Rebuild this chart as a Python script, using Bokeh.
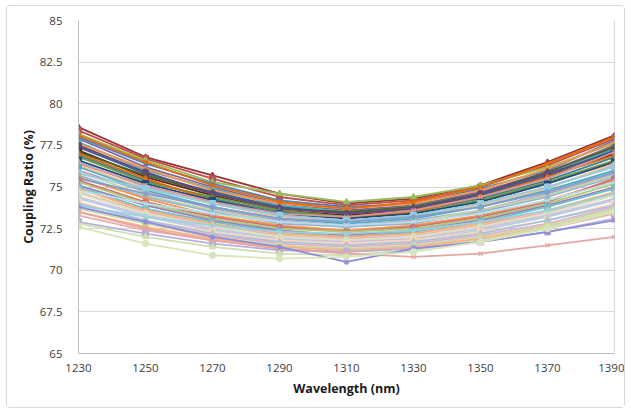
from bokeh.plotting import figure
from bokeh.models import FixedTicker, NumeralTickFormatter, Range1d, Span
from bokeh.embed import file_html
from bokeh.resources import INLINE

# Wavelength sweep (nm)
wavelength = [1230, 1250, 1270, 1290, 1310, 1330, 1350, 1370, 1390]

# Coupling ratio (%) of each measured coupler across the sweep
cr01 = [78.6, 76.8, 75.7, 74.6, 74.0, 74.3, 75.1, 76.5, 78.1]
cr02 = [78.4, 76.7, 75.5, 74.4, 73.9, 74.2, 75.0, 76.3, 77.9]
cr03 = [78.2, 76.6, 75.3, 74.6, 74.1, 74.4, 75.1, 76.2, 77.6]
cr04 = [78.0, 76.4, 75.2, 74.2, 73.8, 74.0, 74.9, 76.0, 77.8]
cr05 = [77.9, 76.2, 75.0, 74.0, 73.6, 73.9, 74.7, 75.9, 77.5]
cr06 = [77.7, 76.0, 74.9, 73.9, 73.5, 73.8, 74.6, 75.8, 77.3]
cr07 = [77.6, 76.1, 74.8, 74.0, 73.7, 74.0, 74.8, 76.1, 77.7]
cr08 = [77.4, 75.8, 74.7, 73.8, 73.4, 73.7, 74.5, 75.7, 77.2]
cr09 = [77.2, 75.6, 74.5, 73.6, 73.3, 73.6, 74.4, 75.6, 77.0]
cr10 = [77.1, 75.7, 74.6, 73.7, 73.5, 73.8, 74.6, 75.9, 77.4]
cr11 = [78.1, 76.5, 75.1, 74.1, 73.7, 74.1, 75.0, 76.4, 78.0]
cr12 = [76.9, 75.4, 74.3, 73.5, 73.2, 73.5, 74.3, 75.4, 76.8]
cr13 = [77.5, 75.9, 74.6, 73.7, 73.4, 73.7, 74.6, 75.8, 77.1]
cr14 = [76.8, 75.3, 74.4, 73.6, 73.2, 73.4, 74.2, 75.3, 76.6]
cr15 = [77.0, 75.5, 74.2, 73.4, 73.1, 73.5, 74.4, 75.6, 76.9]
cr16 = [76.6, 75.2, 74.2, 73.4, 73.1, 73.4, 74.1, 75.2, 76.5]
cr17 = [76.5, 75.0, 74.0, 73.3, 73.0, 73.3, 74.0, 75.0, 76.3]
cr18 = [76.4, 75.1, 74.1, 73.4, 73.2, 73.6, 74.4, 75.5, 77.1]
cr19 = [76.3, 74.9, 74.0, 73.2, 72.9, 73.2, 73.9, 74.9, 76.4]
cr20 = [76.2, 74.8, 73.8, 73.1, 72.8, 73.1, 73.8, 74.8, 76.0]
cr21 = [76.0, 74.7, 73.7, 73.0, 72.7, 73.0, 73.6, 74.6, 75.8]
cr22 = [75.9, 74.5, 73.6, 72.9, 72.6, 72.9, 73.6, 74.5, 75.7]
cr23 = [75.8, 74.9, 74.0, 73.3, 73.0, 73.3, 74.0, 75.0, 76.2]
cr24 = [75.7, 74.4, 73.5, 72.8, 72.6, 72.8, 73.5, 74.4, 75.6]
cr25 = [75.6, 74.3, 73.3, 72.7, 72.4, 72.7, 73.3, 74.2, 75.4]
cr26 = [75.5, 74.6, 73.8, 73.1, 72.9, 73.2, 73.8, 74.7, 75.9]
cr27 = [75.4, 74.1, 73.2, 72.6, 72.3, 72.6, 73.2, 74.1, 75.5]
cr28 = [75.3, 74.0, 73.1, 72.5, 72.3, 72.5, 73.1, 74.0, 75.2]
cr29 = [75.1, 73.9, 73.0, 72.4, 72.1, 72.4, 73.0, 73.9, 75.0]
cr30 = [75.0, 73.7, 72.9, 72.3, 72.0, 72.3, 72.9, 73.8, 74.9]
cr31 = [74.9, 73.6, 72.8, 72.2, 72.0, 72.2, 72.8, 73.6, 74.7]
cr32 = [74.8, 74.0, 73.4, 72.9, 72.7, 72.9, 73.4, 74.2, 75.3]
cr33 = [74.7, 73.5, 72.7, 72.1, 71.9, 72.1, 72.7, 73.5, 74.6]
cr34 = [74.6, 73.4, 72.6, 72.0, 71.8, 72.0, 72.6, 73.4, 74.5]
cr35 = [74.4, 73.3, 72.5, 71.9, 71.7, 71.9, 72.5, 73.3, 74.3]
cr36 = [74.3, 73.2, 72.4, 71.9, 71.6, 71.8, 72.4, 73.2, 74.2]
cr37 = [74.1, 73.0, 72.3, 71.8, 71.6, 71.8, 72.3, 73.0, 74.0]
cr38 = [74.0, 73.0, 72.2, 71.7, 71.5, 71.7, 72.2, 73.0, 73.9]
cr39 = [73.9, 73.2, 72.7, 72.3, 72.2, 72.4, 72.9, 73.6, 74.6]
cr40 = [73.8, 72.9, 72.1, 71.6, 71.4, 71.6, 72.1, 72.8, 73.8]
cr41 = [73.7, 72.8, 72.0, 71.5, 71.3, 71.5, 72.0, 72.7, 73.7]
cr42 = [73.5, 72.6, 71.9, 71.4, 71.2, 71.4, 71.9, 72.6, 73.5]
cr43 = [73.3, 72.4, 71.8, 71.3, 71.1, 71.3, 71.8, 72.5, 73.4]
cr44 = [72.9, 72.2, 71.6, 71.2, 71.1, 71.3, 71.7, 72.3, 73.1]
cr45 = [72.8, 72.0, 71.4, 71.0, 70.9, 71.2, 71.8, 72.6, 73.6]
cr46 = [73.5, 72.5, 71.8, 71.3, 71.0, 70.8, 71.0, 71.5, 72.0]
cr47 = [73.8, 72.9, 72.0, 71.4, 70.5, 71.3, 71.7, 72.3, 73.0]
cr48 = [72.6, 71.6, 70.9, 70.7, 70.8, 71.1, 71.7, 72.5, 73.5]

series = [cr01, cr02, cr03, cr04, cr05, cr06, cr07, cr08, cr09, cr10,
          cr11, cr12, cr13, cr14, cr15, cr16, cr17, cr18, cr19, cr20,
          cr21, cr22, cr23, cr24, cr25, cr26, cr27, cr28, cr29, cr30,
          cr31, cr32, cr33, cr34, cr35, cr36, cr37, cr38, cr39, cr40,
          cr41, cr42, cr43, cr44, cr45, cr46, cr47, cr48]

y_ticks = [65, 67.5, 70, 72.5, 75, 77.5, 80, 82.5, 85]

# Office-style series colours: base accents, darker shades, then lighter tints
palette = [
    "#953735", "#C0504D", "#9BBB59", "#4F81BD", "#8064A2", "#4BACC6",
    "#F79646", "#376092", "#632523", "#4F6228", "#E46C0A", "#31859C",
    "#604A7B", "#77933C", "#E26B0A", "#1F497D", "#8EB4E3", "#D99694",
    "#FAC090", "#4BACC6", "#B3A2C7", "#C3D69B", "#93CDDD", "#95B3D7",
    "#F79646", "#7F9FCF", "#CD7371", "#AFC97A", "#9983B5", "#6FBDD1",
    "#F9AB6B", "#B7DEE8", "#E6B9B8", "#D7E4BD", "#CCC1DA", "#B9CDE5",
    "#FCD5B5", "#A5C0E0", "#9BD1DF", "#DEB0C8", "#C9D9A8", "#F4B183",
    "#E8B0A8", "#B8B0D8", "#CFE0B0", "#E6A5A0", "#8E8CD8", "#D8E4BC",
]
markers = ["diamond", "square", "triangle", "x", "asterisk", "circle", "cross"]

p = figure(
    width=619, height=403,
    x_range=Range1d(1230, 1390), y_range=Range1d(65, 85),
    output_backend="svg", toolbar_location=None,
    min_border_left=71, min_border_right=12,
    min_border_top=14, min_border_bottom=56,
)
p.margin = (5, 6, 6, 6)
p.styles = {"border": "1px solid #D9D9D9", "border-radius": "4px",
            "box-sizing": "border-box"}
p.background_fill_color = "white"
p.border_fill_color = "white"
p.outline_line_color = None

for i, vals in enumerate(series):
    c = palette[i % len(palette)]
    p.line(wavelength, vals, line_color=c, line_width=1.8)
    p.scatter(wavelength, vals, marker=markers[i % len(markers)], size=6,
              fill_color=c, line_color=c, line_width=1.2)

# right edge of the plot area
p.add_layout(Span(location=1390, dimension="height",
                  line_color="#A9B4C8", line_width=1))

p.xgrid.grid_line_color = None
p.ygrid.grid_line_color = "#D9D9D9"
p.ygrid.grid_line_width = 1

p.xaxis.ticker = FixedTicker(ticks=wavelength)
p.yaxis.ticker = FixedTicker(ticks=y_ticks)
p.yaxis.formatter = NumeralTickFormatter(format="0.[0]")

for ax in (p.xaxis[0], p.yaxis[0]):
    ax.axis_line_color = "#BFBFBF"
    ax.major_tick_line_color = None
    ax.minor_tick_line_color = None
    ax.major_label_text_font = "Open Sans"
    ax.major_label_text_font_size = "11.5px"
    ax.major_label_text_color = "#404040"
    ax.axis_label_text_font = "Open Sans"
    ax.axis_label_text_font_size = "12.5px"
    ax.axis_label_text_font_style = "bold"
    ax.axis_label_text_color = "#1a1a1a"

p.xaxis.axis_label = "Wavelength (nm)"
p.yaxis.axis_label = "Coupling Ratio (%)"
p.xaxis.major_label_standoff = 4
p.xaxis.axis_label_standoff = 5
p.yaxis.major_label_standoff = 10
p.yaxis.axis_label_standoff = 0

open("out.html", "w").write(file_html(p, INLINE))
